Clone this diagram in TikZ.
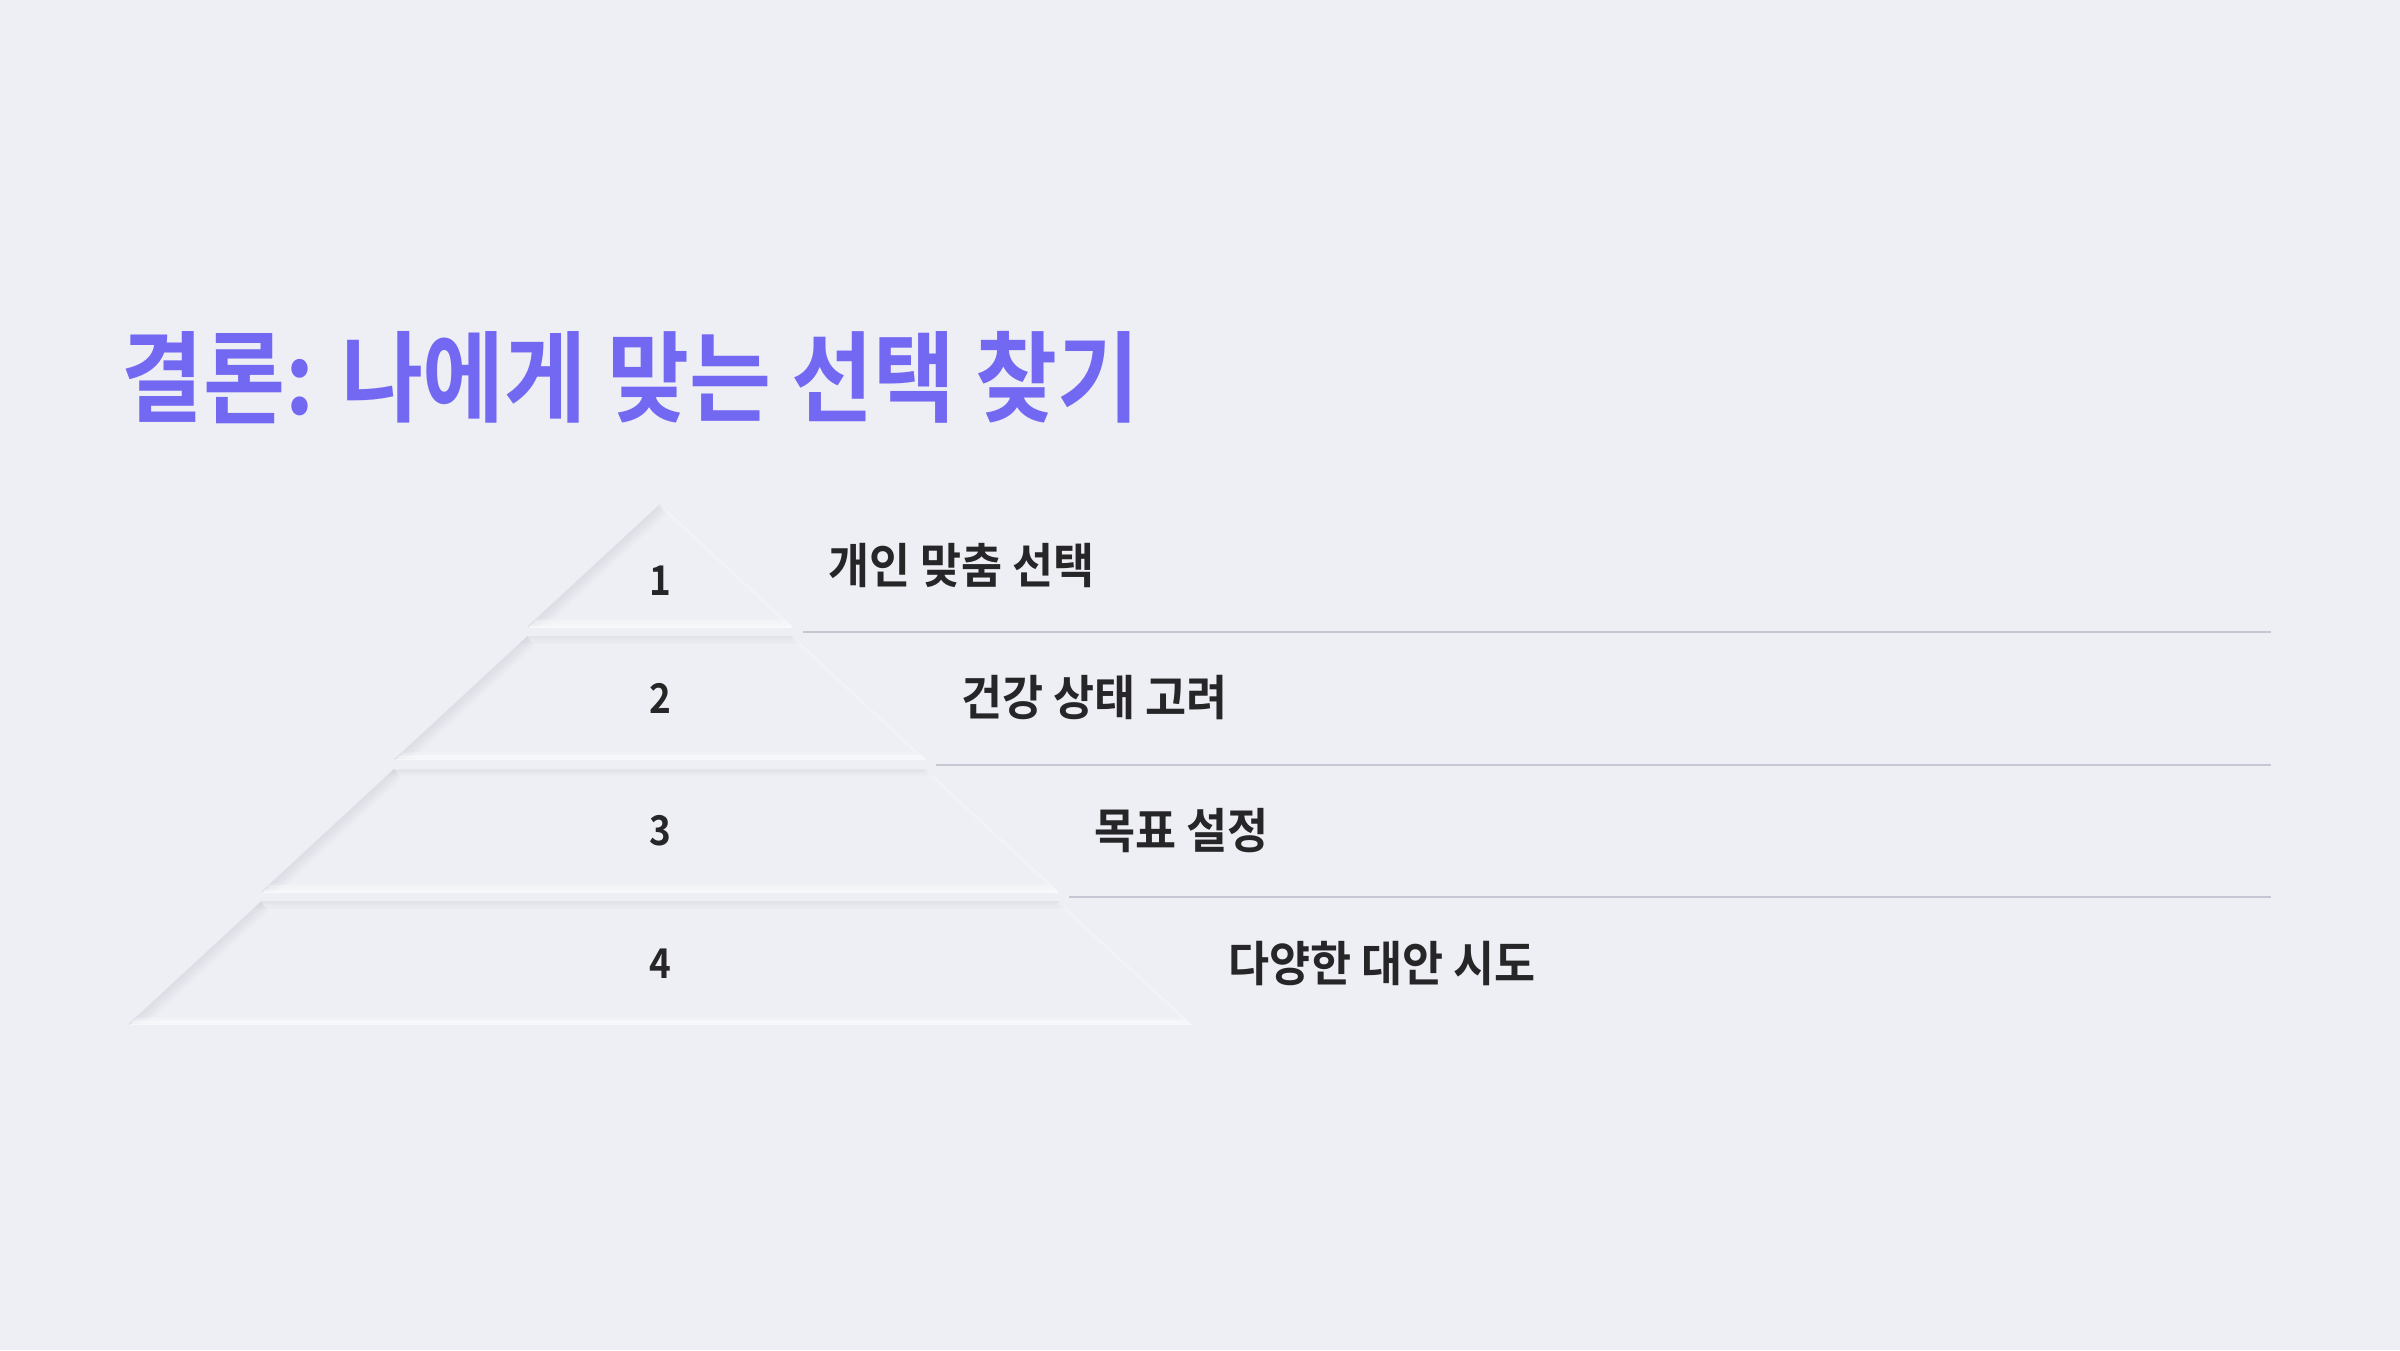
\documentclass[tikz,border=0pt]{standalone}
\usepackage{fontspec}
\newfontfamily\krtitle{Noto Sans CJK KR Bold}[FakeStretch=0.90]
\newfontfamily\kritem{Noto Sans CJK KR Bold}[FakeStretch=0.93]
\newfontfamily\krnum{Noto Sans CJK KR Bold}[FakeStretch=0.90]
\definecolor{bgc}{RGB}{238,239,244}
\definecolor{shadowc}{RGB}{170,172,188}
\definecolor{rulec}{RGB}{198,199,210}
\definecolor{titlec}{RGB}{115,104,242}
\definecolor{textc}{RGB}{38,38,40}
\tikzset{
  titlelbl/.style={inner sep=0pt, anchor=west, text=titlec, font=\krtitle\fontsize{99}{110}\selectfont},
  itemlbl/.style={inner sep=0pt, anchor=west, text=textc, font=\kritem\fontsize{48}{56}\selectfont},
  numlbl/.style={inner sep=0pt, text=textc, font=\krnum\fontsize{41}{48}\selectfont},
  sepline/.style={draw=rulec, line width=2pt},
  shadeline/.style={line width=1.4pt},
}
\begin{document}
\begin{tikzpicture}[x=1pt,y=-1pt]
\fill[bgc] (0,0) rectangle (2400,1350);
\useasboundingbox (0,0) rectangle (2400,1350);

% title
\node[titlelbl] (title) at (121,378) {결론: 나에게 맞는 선택 찾기};

% pyramid bands (neumorphic inset look)
\foreach \i in {0,1,2,3}{
  \pgfmathsetmacro\bT{504+132.5*\i}
  \pgfmathsetmacro\bB{\bT+123.5}
  \pgfmathsetmacro\hwA{133*\i}
  \pgfmathsetmacro\hwB{133*(\i+1)}
  \pgfmathsetmacro\sl{(\hwB-\hwA)/(\bB-\bT)}
  \coordinate (tl\i) at (660-\hwA,\bT);
  \coordinate (tr\i) at (660+\hwA,\bT);
  \coordinate (bl\i) at (660-\hwB,\bB);
  \coordinate (br\i) at (660+\hwB,\bB);
  % left inner shadow
  \foreach \k in {1,...,10}{
    \pgfmathsetmacro\dd{1.2*\k-0.6}
    \pgfmathsetmacro\op{0.22*(1-\k/11)}
    \pgfmathsetmacro\ys{\bT+0.8*\dd}
    \draw[shadeline, draw=shadowc, opacity=\op]
      (660-\hwA-\sl*\ys+\sl*\bT+1.47*\dd, \ys) -- (660-\hwB+1.47*\dd, \bB-0.5);
  }
  % top inner shadow
  \ifnum\i>0
  \foreach \k in {1,...,6}{
    \pgfmathsetmacro\dd{1.2*\k-0.6}
    \pgfmathsetmacro\op{0.18*(1-\k/7)}
    \draw[shadeline, draw=shadowc, opacity=\op]
      (660-\hwA-\sl*\dd, \bT+\dd) -- (660+\hwA+\sl*\dd, \bT+\dd);
  }
  \fi
  % bottom inner highlight
  \foreach \k in {1,...,7}{
    \pgfmathsetmacro\dd{1.2*\k-0.6}
    \pgfmathsetmacro\op{0.7*(1-\k/9)}
    \draw[shadeline, draw=white, opacity=\op]
      (660-\hwB+\sl*\dd+1, \bB-\dd) -- (660+\hwB-\sl*\dd, \bB-\dd);
  }
  % right inner highlight
  \foreach \k in {1,2,3}{
    \pgfmathsetmacro\dd{1.2*\k-0.6}
    \pgfmathsetmacro\op{0.35*(1-\k/4)}
    \pgfmathsetmacro\ys{\bT+0.8*\dd}
    \draw[shadeline, draw=white, opacity=\op]
      (660+\hwA+\sl*\ys-\sl*\bT-1.47*\dd, \ys) -- (660+\hwB-1.47*\dd, \bB-0.5);
  }
}

% separator lines
\foreach \i in {0,1,2}{
  \pgfmathsetmacro\ys{504+132.5*\i+123.5+4.5}
  \pgfmathsetmacro\xs{660+133*(\i+1)+10}
  \coordinate (ls\i) at (\xs,\ys);
  \coordinate (le\i) at (2271,\ys);
  \draw[sepline] (ls\i) -- (le\i);
}

% numbers
\node[numlbl] (n1) at (660,581) {1};
\node[numlbl] (n2) at (660,698) {2};
\node[numlbl] (n3) at (660,831) {3};
\node[numlbl] (n4) at (660,964) {4};

% items
\node[itemlbl] (t1) at (828,566) {개인 맞춤 선택};
\node[itemlbl] (t2) at (961,698) {건강 상태 고려};
\node[itemlbl] (t3) at (1094,831) {목표 설정};
\node[itemlbl] (t4) at (1228,964) {다양한 대안 시도};
\end{tikzpicture}
\end{document}
